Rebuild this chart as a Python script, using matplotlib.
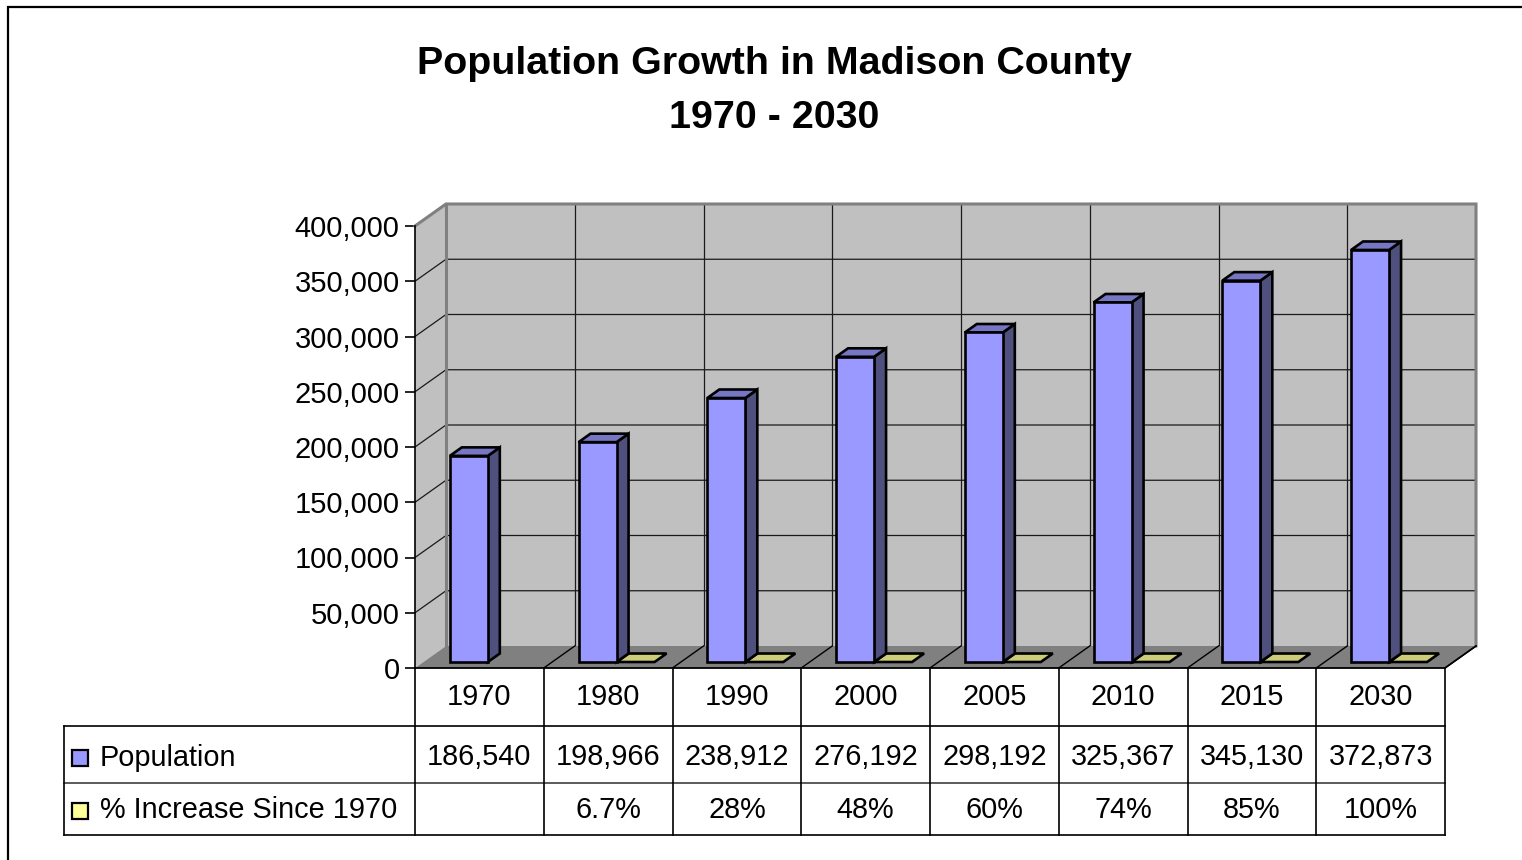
import matplotlib
matplotlib.use('Agg')
import matplotlib.pyplot as plt
from matplotlib.patches import Polygon, Rectangle
from matplotlib.ticker import FuncFormatter

plt.rcParams['font.family'] = ['Liberation Sans', 'DejaVu Sans']

# ---------------- data ----------------
years = ['1970', '1980', '1990', '2000', '2005', '2010', '2015', '2030']
population = [186540, 198966, 238912, 276192, 298192, 325367, 345130, 372873]
pct_increase = [None, 0.067, 0.28, 0.48, 0.60, 0.74, 0.85, 1.00]
pct_labels = ['', '6.7%', '28%', '48%', '60%', '74%', '85%', '100%']
series_names = ['Population', '% Increase Since 1970']
y_ticks = list(range(0, 400001, 50000))
title_lines = ['Population Growth in Madison County', '1970 - 2030']

# ---------------- style ----------------
W, H = 1522, 860
POP_FRONT, POP_SIDE, POP_TOP = '#9999FF', '#50507F', '#7676C4'
PCT_FRONT, PCT_TOP = '#FFFF99', '#CCCC7A'
WALL, FLOOR, WALL_EDGE = '#C0C0C0', '#808080', '#808080'

fig = plt.figure(figsize=(W / 100, H / 100), dpi=100)


def px_rect(l, t, r, b):
    return [l / W, 1 - b / H, (r - l) / W, (b - t) / H]


ax = fig.add_axes(px_rect(415, 226, 1445, 668))
ncat = len(years)
ymax = y_ticks[-1]
ax.set_xlim(0, ncat)
ax.set_ylim(0, ymax)
ax.patch.set_visible(False)
for s in ['top', 'right', 'bottom']:
    ax.spines[s].set_visible(False)
ax.spines['left'].set_linewidth(1.2)
ax.spines['left'].set_zorder(6)
ax.set_xticks([])
ax.set_yticks(y_ticks)
ax.yaxis.set_major_formatter(FuncFormatter(lambda v, p: f'{int(v):,}'))
ax.tick_params(axis='y', length=7, width=1.2, pad=4, labelsize=21)

# depth vector (oblique projection), in data units
cat_px = 1030 / ncat
DX = 31 / cat_px
DY = 22 * ymax / 442


def P(x, y, f):
    return (x + f * DX, y + f * DY)


# back wall and left wall
ax.add_patch(Polygon([P(0, 0, 1), P(ncat, 0, 1), P(ncat, ymax, 1), P(0, ymax, 1)],
                     closed=True, fc=WALL, ec='none', zorder=1, clip_on=False))
ax.add_patch(Polygon([P(0, 0, 0), P(0, ymax, 0), P(0, ymax, 1), P(0, 0, 1)],
                     closed=True, fc=WALL, ec='none', zorder=1, clip_on=False))

# gridlines
for t in y_ticks[1:-1]:
    pts = [P(0, t, 0), P(0, t, 1), P(ncat, t, 1)]
    ax.plot([p[0] for p in pts], [p[1] for p in pts], color='#1a1a1a', lw=0.9,
            zorder=1.5, clip_on=False)
for i in range(1, ncat):
    pts = [P(i, 0, 1), P(i, ymax, 1)]
    ax.plot([p[0] for p in pts], [p[1] for p in pts], color='#1a1a1a', lw=0.9,
            zorder=1.5, clip_on=False)

# wall edges
pts = [P(0, ymax, 0), P(0, ymax, 1), P(ncat, ymax, 1), P(ncat, 0, 1)]
ax.plot([p[0] for p in pts], [p[1] for p in pts], color=WALL_EDGE, lw=2.2,
        zorder=1.6, clip_on=False, solid_joinstyle='miter')
pts = [P(0, 0, 1), P(0, ymax, 1)]
ax.plot([p[0] for p in pts], [p[1] for p in pts], color=WALL_EDGE, lw=2.2,
        zorder=1.6, clip_on=False)

# floor
ax.add_patch(Polygon([P(0, 0, 0), P(ncat, 0, 0), P(ncat, 0, 1), P(0, 0, 1)],
                     closed=True, fc=FLOOR, ec='none', zorder=2, clip_on=False))
for i in range(1, ncat + 1):
    pts = [P(i, 0, 0), P(i, 0, 1)]
    ax.plot([p[0] for p in pts], [p[1] for p in pts], color='k', lw=1.0,
            zorder=2.1, clip_on=False)

# bars
BW = 38 / cat_px
F0, F1 = 6 / 22, 14.5 / 22
for i, v in enumerate(population):
    x0, x1 = i + 0.5 - BW, i + 0.5
    front = [P(x0, 0, F0), P(x1, 0, F0), P(x1, v, F0), P(x0, v, F0)]
    side = [P(x1, 0, F0), P(x1, 0, F1), P(x1, v, F1), P(x1, v, F0)]
    top = [P(x0, v, F0), P(x1, v, F0), P(x1, v, F1), P(x0, v, F1)]
    for poly, c in [(side, POP_SIDE), (top, POP_TOP), (front, POP_FRONT)]:
        ax.add_patch(Polygon(poly, closed=True, fc=c, ec='k', lw=1.9,
                             joinstyle='miter', zorder=3, clip_on=False))
for i, v in enumerate(pct_increase):
    if v is None:
        continue
    x0, x1 = i + 0.5, i + 0.5 + BW
    top = [P(x0, v, F0), P(x1, v, F0), P(x1, v, F1), P(x0, v, F1)]
    ax.add_patch(Polygon(top, closed=True, fc=PCT_TOP, ec='k', lw=1.9,
                         joinstyle='miter', zorder=2.9, clip_on=False))

# floor right edge
pts = [P(ncat, 0, 0), P(ncat, 0, 1)]
ax.plot([p[0] for p in pts], [p[1] for p in pts], color='k', lw=1.2,
        zorder=2.2, clip_on=False)

# ---------------- data table ----------------
tax = fig.add_axes(px_rect(64, 668, 1445, 835))
XL = ncat - (1445 - 64) / cat_px
tax.set_xlim(XL, ncat)
tax.set_ylim(167, 0)
tax.axis('off')
rows = [0, 58, 115, 167]
lc = '#000000'
tax.plot([0, ncat], [rows[0], rows[0]], color=lc, lw=1.3, clip_on=False)
for r in rows[1:]:
    tax.plot([XL, ncat], [r, r], color=lc if r != rows[2] else '#404040', lw=1.2,
             clip_on=False)
tax.plot([XL, XL], [rows[1], rows[3]], color=lc, lw=1.2, clip_on=False)
for i in range(ncat + 1):
    tax.plot([i, i], [rows[0], rows[3]], color=lc, lw=1.2, clip_on=False)

fs = 20.8
for i in range(ncat):
    cx = i + 0.5
    tax.text(cx, (rows[0] + rows[1]) / 2, years[i], ha='center', va='center', fontsize=fs)
    tax.text(cx, (rows[1] + rows[2]) / 2 + 2.5, f'{population[i]:,}', ha='center', va='center', fontsize=fs)
    tax.text(cx, (rows[2] + rows[3]) / 2 + 0.5, pct_labels[i], ha='center', va='center', fontsize=fs)

key = 16
for r, (name, col) in enumerate(zip(series_names, [POP_FRONT, PCT_FRONT])):
    cy = (rows[r + 1] + rows[r + 2]) / 2 + (3 if r == 0 else 1.5)
    tax.add_patch(Rectangle((XL + 8 / cat_px, cy - key / 2), key / cat_px, key,
                            fc=col, ec='k', lw=1.6, clip_on=False))
    tax.text(XL + 36 / cat_px, cy, name, ha='left', va='center', fontsize=fs)

# ---------------- title & border ----------------
fig.text(774 / W, 1 - 64 / H, title_lines[0], ha='center', va='center',
         fontsize=28.4, fontweight='bold')
fig.text(774 / W, 1 - 118 / H, title_lines[1], ha='center', va='center',
         fontsize=28.4, fontweight='bold')
fig.patches.append(Rectangle((8 / W, -0.1), 1.2, 1.1 - 7 / H, transform=fig.transFigure,
                             fill=False, ec='k', lw=1.6))

fig.savefig('out.png', dpi=100, facecolor='white')
